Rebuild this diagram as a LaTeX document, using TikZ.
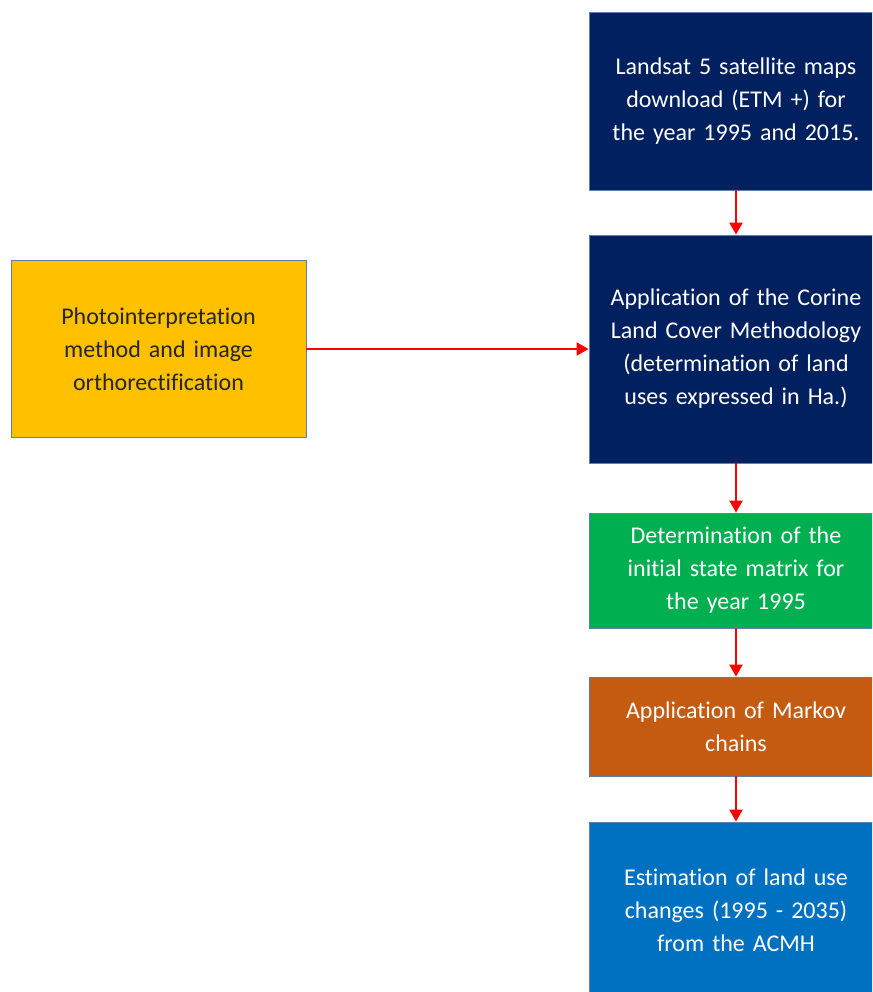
\documentclass[tikz,border=0pt]{standalone}
\usepackage{fontspec}
\setmainfont{Carlito}[RawFeature={-liga;-clig;-dlig}]
\usetikzlibrary{arrows.meta}
\definecolor{navy}{HTML}{002060}
\definecolor{gold}{HTML}{FFC000}
\definecolor{grn}{HTML}{00B050}
\definecolor{brn}{HTML}{C55A11}
\definecolor{blu}{HTML}{0070C0}
\definecolor{edge}{HTML}{5B7FB0}
\definecolor{arr}{HTML}{FF0000}
\tikzset{
  box/.style={draw=edge, line width=0.8pt, minimum width=294pt, text width=288pt,
    align=center, inner sep=0pt, text=white, font=\fontsize{24}{33}\selectfont},
  conn/.style={draw=arr, line width=2pt, -{Triangle[width=13pt,length=12pt]}}
}
\begin{document}
\begin{tikzpicture}[x=1pt,y=-1pt]
\useasboundingbox (0,0) rectangle (872,992);
\clip (0,0) rectangle (872,992);
\node[box, fill=navy, minimum height=178pt] (b1) at (736,101)
  {Landsat 5 satellite maps\\download (ETM +) for\\the year 1995 and 2015.};
\node[box, fill=navy, minimum height=228pt] (b2) at (736,349)
  {Application of the Corine\\Land Cover Methodology\\(determination of land\\uses expressed in Ha.)};
\node[box, fill=grn, minimum height=115pt] (b3) at (736,570.5)
  {Determination of the\\initial state matrix for\\the year 1995};
\node[box, fill=brn, minimum height=99pt] (b4) at (736,726.5)
  {Application of Markov\\chains};
\node[box, fill=blu, minimum height=176pt] (b5) at (736,910)
  {Estimation of land use\\changes (1995 - 2035)\\from the ACMH};
\node[box, fill=gold, minimum width=295pt, minimum height=177pt, text=black!85] (o) at (158.5,349)
  {Photointerpretation\\method and image\\orthorectification};
\draw[conn] (b1) -- (b2);
\draw[conn] (b2) -- (b3);
\draw[conn] (b3) -- (b4);
\draw[conn] (b4) -- (b5);
\draw[conn] (o) -- (b2);
\end{tikzpicture}
\end{document}
